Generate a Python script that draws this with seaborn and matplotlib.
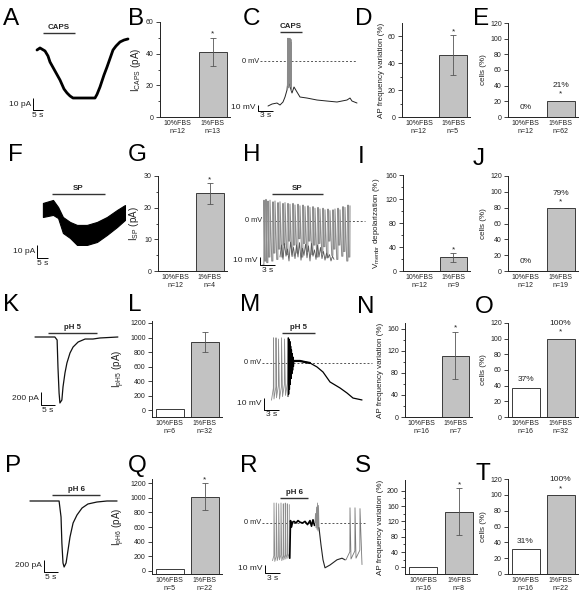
import matplotlib
matplotlib.use('Agg')
import matplotlib.pyplot as plt
import numpy as np
import pandas as pd
import seaborn as sns

# ------------------------------------------------------------------ data
groups = ['10%FBS', '1%FBS']

# bar panels: mean, s.e.m., n
B_n, B_val, B_err = [12, 13], [0, 41], [0, 9]
D_n, D_val, D_err = [12, 5], [0, 46], [0, 15]
E_n, E_val = [12, 62], [0, 21]
G_n, G_val, G_err = [12, 4], [0, 24.5], [0, 3.2]
I_n, I_val, I_err = [12, 9], [0, 22.8], [0, 7]
J_n, J_val = [12, 19], [0, 79]
L_n, L_val, L_err = [6, 32], [15, 938], [0, 134]
N_n, N_val, N_err = [16, 7], [0, 111], [0, 43]
O_n, O_val = [16, 32], [37, 100]
Q_n, Q_val, Q_err = [5, 22], [25, 1015], [0, 180]
S_n, S_val, S_err = [16, 8], [0, 145], [0, 61]
T_n, T_val = [16, 22], [31, 100]

# A: capsaicin current (s, pA)
A_t = [18.5, 20, 22.5, 24, 25, 27.5, 30, 32, 33.5, 35, 36.5, 42.5, 47.5, 48.5, 50, 52, 53.5, 56.5, 58, 60, 62, 64]
A_i = [0, 1.7, -0.8, -5, -10, -17.5, -25, -32.5, -35.8, -38.3, -40, -40, -40, -37, -30.8, -20.8, -14.2, 0, 3.3, 6.7, 8.3, 9.2]

# C: capsaicin membrane potential (s, mV)
C_t = [7.6, 8.4, 9.4, 10.0, 10.6, 11.0, 11.4, 11.6, 12.4, 12.8, 13.4, 14.0, 15.4, 17.4, 19.4, 21.4, 23.4, 24.0, 24.4, 25.4]
C_v = [-75, -71.7, -70, -73.3, -68.3, -60, -48.3, -31.7, -53.3, -43.3, -51.7, -60, -61.7, -65, -66.7, -68.3, -65, -61.7, -66.7, -70]
C_spk_t = [11.5, 11.6, 11.7, 11.8, 11.9, 12.0, 12.1, 12.2, 12.3]
C_spk_peak = [38, 36, 38, 35, 37, 38, 34, 36, 30]
C_spk_trough = [-48, -40, -30, -45, -35, -25, -42, -38, -50]

# F: substance P current envelope (s, pA)
F_t = [19.5, 24.1, 26.4, 28.6, 31.8, 35, 39.5, 44.1, 48.6, 53.2, 56.8]
F_hi = [5.4, 7.7, 2.3, -5.4, -9.2, -11.5, -11.5, -9.2, -5.4, 0, 3.8]
F_lo = [-5.4, -3.8, -6.2, -17.7, -21.5, -26.9, -26.9, -24.6, -19.2, -13.1, -7.7]

# H: substance P firing (s, mV)
H_spk_t = [6.8, 7.2, 7.6, 8.0, 8.6, 9.0, 9.6, 10.0, 10.6, 11.0, 11.6, 12.0, 12.6, 13.0, 13.6, 14.0, 14.6, 15.0,
           15.6, 16.0, 16.6, 17.0, 17.6, 18.0, 18.6, 19.0, 19.6, 20.0, 20.6, 21.0, 21.6, 22.0, 22.6, 23.0, 23.6, 24.0]
H_spk_peak = [26, 27, 25, 26, 24, 25, 23, 24, 22, 23, 22, 21, 22, 20, 21, 19, 20, 18,
              19, 17, 18, 16, 17, 15, 16, 14, 15, 13, 14, 15, 16, 14, 18, 17, 20, 19]
H_spk_trough = [-55, -50, -52, -45, -50, -40, -48, -35, -45, -30, -42, -25, -44, -30, -40, -22, -45, -28,
                -38, -25, -42, -30, -45, -28, -40, -32, -46, -25, -43, -35, -48, -30, -44, -38, -50, -45]
H_mass_t = [10.0, 10.3, 10.6, 10.9, 11.2, 11.5, 11.8, 12.1, 12.4, 12.7, 13.0, 13.3, 13.6, 13.9, 14.2, 14.5,
            14.8, 15.1, 15.4, 15.7, 16.0, 16.3, 16.6, 16.9, 17.2, 17.5, 17.8, 18.1, 18.4, 18.7, 19.0, 19.3,
            19.6, 19.9, 20.2, 20.5, 20.8]
H_mass_v = [-45, -30, -48, -28, -44, -35, -50, -26, -42, -33, -47, -30, -45, -27, -49, -34, -43, -29, -46,
            -31, -50, -28, -44, -36, -48, -30, -45, -33, -47, -38, -49, -40, -46, -42, -50, -44, -48]

# K: pH 5 current (s, pA)
K_t = [12.5, 19.6, 20.4, 20.7, 21.1, 21.4, 22.1, 22.5, 23.2, 23.9, 25.0, 26.1, 27.9, 30.4, 33.2, 35.7, 42.1]
K_i = [0, 0, -46, -462, -862, -1015, -969, -769, -554, -400, -246, -154, -77, -31, -31, -15, 0]

# M: pH 5 membrane potential (s, mV)
M_spk_t = [8.7, 9.2, 9.7, 10.3, 10.9, 11.5]
M_spk_peak = [21, 21, 20, 21, 20, 21]
M_spk_trough = [-31, -30, -29, -30, -28, -27]
M_burst_t = [11.60, 11.68, 11.76, 11.84, 11.92, 12.00, 12.08, 12.16, 12.24, 12.32, 12.40, 12.48, 12.56, 12.64, 12.72, 12.80]
M_burst_v = [-28, 21, -26, 20, -22, 18, -18, 14, -13, 11, -9, 8, -6, 5, -3, 2]
M_t = [12.8, 14, 15, 16, 17.4, 18.6, 20, 22, 23.4, 24.6, 26.4]
M_v = [1.7, 1.7, 0.8, 0, -3.3, -7.5, -15.8, -20.8, -25, -29.2, -30.8]

# P: pH 6 current (s, pA)
P_t = [10.7, 21.1, 21.8, 22.1, 22.5, 22.9, 23.6, 24.3, 25.0, 26.1, 27.5, 29.3, 31.4, 34.6, 38.2, 41.8]
P_i = [0, 0, -267, -700, -1033, -1100, -1033, -817, -600, -367, -233, -117, -50, -17, 0, 0]

# R: pH 6 membrane potential (s, mV)
R_spk_t = [8.8, 9.26, 9.74, 10.2, 10.66, 11.06, 11.46, 11.86]
R_spk_peak = [25, 25, 24, 25, 24, 25, 24, 23]
R_spk_trough = [-47, -48, -47, -46, -47, -46, -45, -44]
R_plat_t = [11.95, 12.1, 12.3, 12.5, 12.8, 13.2, 13.6, 14.0, 14.5, 15.0, 15.5, 16.0, 16.3, 16.6, 16.9]
R_plat_v = [-44, 3, -5, 1, 2, 0, 3, 1, 0, 2, -2, 3, -4, 4, -3]
R_burst_t = [17.0, 17.1, 17.2, 17.3, 17.4, 17.5, 17.6, 17.7, 17.8]
R_burst_v = [0, 12, -6, 20, -8, 25, -10, 22, -6]
R_late_t = [17.8, 18.2, 18.6, 19.0, 20.0, 21.4, 22.4, 23.0]
R_late_v = [-6, -27.5, -46, -56, -52.5, -46, -44, -46]
R_spk2_t = [24.0, 25.0, 26.0]
R_spk2_peak = [19, 19, 18]
R_spk2_trough = [-46, -45, -44]
R_end_t = [26.0, 26.4]
R_end_v = [18, -52]

# ------------------------------------------------------------------ style
sns.set_theme(style='white')
plt.rcParams['font.family'] = ['Liberation Sans', 'DejaVu Sans']
plt.rcParams['mathtext.default'] = 'regular'
plt.rcParams['axes.linewidth'] = 0.7

GREY = '#c2c2c2'
EDGE = '#3a3a3a'
TXT = '#222222'

W, H = 588, 600
fig = plt.figure(figsize=(W / 100, H / 100), dpi=100)
fig.patch.set_facecolor('white')


def px_axes(x0, y0, x1, y1):
    ax = fig.add_axes([x0 / W, 1 - y1 / H, (x1 - x0) / W, (y1 - y0) / H])
    ax.patch.set_visible(False)
    return ax


def trace_ax(box, t_left, v_top, sx, sy):
    x0, y0, x1, y1 = box
    ax = px_axes(x0, y0, x1, y1)
    ax.set_xlim(t_left, t_left + (x1 - x0) / sx)
    ax.set_ylim(v_top - (y1 - y0) / sy, v_top)
    ax.axis('off')
    return ax


def stim(ax, t0, t1, v, label):
    ax.plot([t0, t1], [v, v], color='#333333', lw=1.0, solid_capstyle='butt')
    ax.annotate(label, xy=((t0 + t1) / 2, v), xytext=(0, 1.5), textcoords='offset points',
                ha='center', va='bottom', fontsize=5.7, fontweight='bold', color=TXT)


def scalebar(ax, t, v, dt, dv, tlabel, vlabel):
    ax.plot([t, t, t + dt], [v + dv, v, v], color='black', lw=0.7, solid_capstyle='butt')
    ax.annotate(vlabel, xy=(t, v + dv / 2), xytext=(-1.5, 0), textcoords='offset points',
                ha='right', va='center', fontsize=6, color=TXT)
    ax.annotate(tlabel, xy=(t + dt / 2, v), xytext=(0, -1.2), textcoords='offset points',
                ha='center', va='top', fontsize=6, color=TXT)


def zero_line(ax, t0, t1):
    ax.plot([t0, t1], [0, 0], color='#555555', lw=0.7, ls=(0, (2, 2)))
    ax.annotate('0 mV', xy=(t0, 0), xytext=(-0.5, 0), textcoords='offset points',
                ha='right', va='center', fontsize=5.3, color=TXT)


def spike_path(ts, peaks, troughs, rise, lift):
    t, v = [], []
    for ti, p, tr in zip(ts, peaks, troughs):
        t += [ti - rise, ti - 0.03, ti]
        v += [tr, tr + lift, p]
    return t, v


def bar_panel(box, n, val, err, ylabel, ylim, major, minor=None, star=True, pct=False, ylabel_size=5.8):
    ax = px_axes(*box)
    labels = [f'{g}\nn={k}' for g, k in zip(groups, n)]
    df = pd.DataFrame({'group': labels, 'height': [v - ylim[0] for v in val]})
    sns.barplot(data=df, x='group', y='height', hue='group', order=labels, hue_order=labels,
                palette=['white', GREY], saturation=1, legend=False, errorbar=None, width=0.8,
                bottom=ylim[0], edgecolor=EDGE, linewidth=0.7, ax=ax)
    if err is not None:
        for x, v, e in zip([0, 1], val, err):
            if e > 0:
                ax.errorbar(x, v, yerr=e, fmt='none', ecolor='#555555', elinewidth=0.6,
                            capsize=2.2, capthick=0.6)
    ax.set_xlim(-0.5, 1.5)
    ax.set_ylim(*ylim)
    ax.set_yticks(major)
    if minor:
        ax.set_yticks(minor, minor=True)
    ax.tick_params(axis='y', which='major', length=3, width=0.6, labelsize=5, pad=1.5,
                   colors=TXT, left=True)
    ax.tick_params(axis='y', which='minor', length=1.8, width=0.6, left=True)
    ax.tick_params(axis='x', length=0, labelsize=5, pad=2, colors=TXT)
    for lab in ax.get_xticklabels():
        lab.set_linespacing(1.25)
    ax.set_xlabel('')
    ax.set_ylabel(ylabel, fontsize=ylabel_size, labelpad=2, color=TXT)
    for s in ['top', 'right']:
        ax.spines[s].set_visible(False)
    for s in ['left', 'bottom']:
        ax.spines[s].set_color(TXT)
        ax.spines[s].set_linewidth(0.7)
    if pct:
        for x, v in zip([0, 1], val):
            off = 10.8 if x == 1 else (6.5 if v == 0 else 5.8)
            ax.annotate(f'{v}%', xy=(x, v), xytext=(0, off), textcoords='offset points',
                        ha='center', va='center', fontsize=6, color=TXT)
        if star:
            ax.annotate('*', xy=(1, val[1]), xytext=(0, 3.5), textcoords='offset points',
                        ha='center', va='baseline', fontsize=6, color=TXT)
    elif star:
        ax.annotate('*', xy=(1, val[1] + err[1]), xytext=(0, 1.5), textcoords='offset points',
                    ha='center', va='baseline', fontsize=6, color=TXT)
    return ax


# ------------------------------------------------------------------ row 1
ax = trace_ax((0, 20, 140, 125), 0, 25, 2, 1.2)
ax.plot(A_t, A_i, color='black', lw=2.0, solid_joinstyle='round')
stim(ax, 21.5, 37.5, 14.2, 'CAPS')
scalebar(ax, 16.5, -50, 5, 10, '5 s', '10 pA')

bar_panel((160, 22, 230, 117), B_n, B_val, B_err, r'I$_{CAPS}$ (pA)', (0, 60), [0, 20, 40, 60], [10, 30, 50],
          ylabel_size=7)

ax = trace_ax((230, 15, 370, 125), 0, 76.7, 5, 0.6)
zero_line(ax, 6, 25.4)
ax.plot(C_t, C_v, color='#222222', lw=0.7)
st, sv = spike_path(C_spk_t, C_spk_peak, C_spk_trough, 0.05, 0)
ax.plot(st, sv, color='#8a8a8a', lw=0.6)
stim(ax, 10, 14.4, 48.3, 'CAPS')
scalebar(ax, 5.6, -83, 3, 10, '3 s', '10 mV')

bar_panel((402, 23, 470, 117), D_n, D_val, D_err, 'AP frequency variation (%)', (0, 70), [0, 20, 40, 60], [10, 30, 50])
bar_panel((508, 23, 578, 117), E_n, E_val, None, 'cells (%)', (0, 120), [0, 20, 40, 60, 80, 100, 120], pct=True)

# ------------------------------------------------------------------ row 2
ax = trace_ax((0, 175, 140, 280), 0, 26.9, 2.2, 1.3)
ax.fill_between(F_t, F_lo, F_hi, color='black', lw=0.8, edgecolor='black')
stim(ax, 23.6, 47.7, 12.3, 'SP')
scalebar(ax, 16.8, -36.9, 5, 10, '5 s', '10 pA')

bar_panel((158, 176, 227, 271), G_n, G_val, G_err, r'I$_{SP}$ (pA)', (0, 30), [0, 10, 20, 30], [5, 15, 25],
          ylabel_size=7)

ax = trace_ax((230, 175, 370, 285), 0, 57.5, 5, 0.8)
zero_line(ax, 6.6, 27)
st, sv = spike_path(H_spk_t, H_spk_peak, H_spk_trough, 0.25, 0)
ax.plot(st, sv, color='#8c8c8c', lw=0.75)
ax.plot(H_mass_t, H_mass_v, color='#5a5a5a', lw=0.6)
stim(ax, 8.4, 18.6, 33.8, 'SP')
scalebar(ax, 6, -55, 3, 10, '3 s', '10 mV')

bar_panel((403, 175, 470, 271), I_n, I_val, I_err, r'V$_{membr}$ depolarization (%)', (0, 160),
          [0, 40, 80, 120, 160], [20, 60, 100, 140])
bar_panel((508, 176, 578, 271), J_n, J_val, None, 'cells (%)', (0, 120), [0, 20, 40, 60, 80, 100, 120], pct=True)

# ------------------------------------------------------------------ row 3
ax = trace_ax((0, 315, 140, 420), 0, 338.5, 2.8, 0.065)
ax.plot(K_t, K_i, color='#111111', lw=0.9)
stim(ax, 17.1, 34.6, 62, 'pH 5')
scalebar(ax, 14.6, -1046, 5, 200, '5 s', '200 pA')

bar_panel((152, 321, 222, 417), L_n, L_val, L_err, r'I$_{pH5}$ (pA)', (-92, 1227),
          [0, 200, 400, 600, 800, 1000, 1200], star=False, ylabel_size=7)

ax = trace_ax((230, 315, 375, 425), 0, 40, 5, 1.2)
zero_line(ax, 6.4, 28.4)
st, sv = spike_path(M_spk_t, M_spk_peak, M_spk_trough, 0.4, 10)
ax.plot(st, sv, color='#8c8c8c', lw=0.6)
ax.plot(M_burst_t, M_burst_v, color='black', lw=0.7)
ax.plot(M_t[:4], M_v[:4], color='black', lw=1.6)
ax.plot(M_t, M_v, color='black', lw=0.9)
stim(ax, 10.4, 17, 25, 'pH 5')
scalebar(ax, 6.8, -39, 3, 10, '3 s', '10 mV')

bar_panel((405, 323, 472, 417), N_n, N_val, N_err, 'AP frequency variation (%)', (0, 170),
          [0, 40, 80, 120, 160], [20, 60, 100, 140])
bar_panel((508, 323, 578, 417), O_n, O_val, None, 'cells (%)', (0, 120), [0, 20, 40, 60, 80, 100, 120], pct=True)

# ------------------------------------------------------------------ row 4
ax = trace_ax((0, 478, 140, 590), 0, 383.3, 2.8, 0.06)
ax.plot(P_t, P_i, color='#111111', lw=0.9)
stim(ax, 18.6, 35.7, 100, 'pH 6')
scalebar(ax, 15.7, -1183, 5, 200, '5 s', '200 pA')

bar_panel((152, 479, 222, 574), Q_n, Q_val, Q_err, r'I$_{pH6}$ (pA)', (-41, 1255),
          [0, 200, 400, 600, 800, 1000, 1200], ylabel_size=7)

ax = trace_ax((230, 478, 370, 590), 0, 56.25, 5, 0.8)
zero_line(ax, 6.4, 27)
st, sv = spike_path(R_spk_t, R_spk_peak, R_spk_trough, 0.3, 6)
ax.plot(st, sv, color='#8c8c8c', lw=0.6)
ax.plot(R_plat_t, R_plat_v, color='black', lw=1.2)
ax.plot(R_burst_t, R_burst_v, color='#8c8c8c', lw=0.6)
ax.plot(R_late_t, R_late_v, color='#222222', lw=0.8)
st, sv = spike_path(R_spk2_t, R_spk2_peak, R_spk2_trough, 0.8, 10)
ax.plot([R_late_t[-1]] + st + R_end_t, [R_late_v[-1]] + sv + R_end_v, color='#777777', lw=0.6)
stim(ax, 10, 15.6, 31, 'pH 6')
scalebar(ax, 7, -62.5, 3, 10, '3 s', '10 mV')

bar_panel((405, 480, 477, 574), S_n, S_val, S_err, 'AP frequency variation (%)', (-17, 228),
          [0, 40, 80, 120, 160, 200], [20, 60, 100, 140, 180])
bar_panel((508, 479, 578, 574), T_n, T_val, None, 'cells (%)', (0, 120), [0, 20, 40, 60, 80, 100, 120], pct=True)

# ------------------------------------------------------------------ panel letters
letters = ['A', 'B', 'C', 'D', 'E', 'F', 'G', 'H', 'I', 'J', 'K', 'L', 'M', 'N', 'O', 'P', 'Q', 'R', 'S', 'T']
letter_x = [3, 128, 243, 355, 473, 8, 128, 243, 358, 473, 3, 128, 240, 357, 475, 5, 128, 240, 355, 475]
letter_y = [25, 25, 25, 25, 25, 161, 161, 161, 163, 165, 311, 311, 311, 313, 313, 472, 472, 472, 472, 480]
for s, x, y in zip(letters, letter_x, letter_y):
    fig.text(x / W, 1 - y / H, s, fontsize=17.5, ha='left', va='baseline', color='black')

fig.savefig('out.png', dpi=100, facecolor='white')
